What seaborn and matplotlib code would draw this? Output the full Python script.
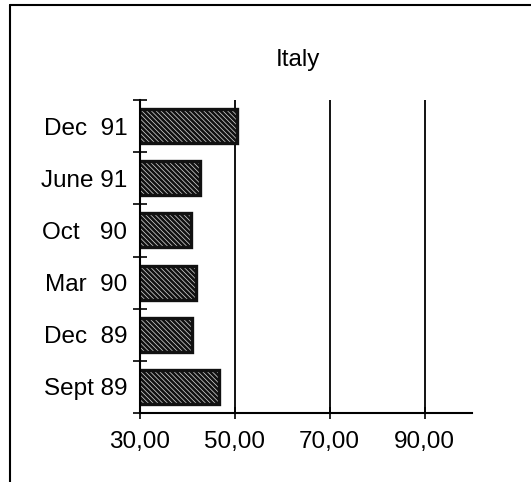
import matplotlib
matplotlib.use('Agg')
import matplotlib.pyplot as plt
import matplotlib.ticker as mticker
from matplotlib.lines import Line2D
import seaborn as sns
import pandas as pd

# Datos (de arriba hacia abajo)
periods = ['Dec  91', 'June 91', 'Oct   90', 'Mar  90', 'Dec  89', 'Sept 89']
values = [50.4, 42.6, 40.7, 41.8, 41.0, 46.6]
x_ticks = [30, 50, 70, 90]
title = 'Italy'

sns.set_theme(style='white')
plt.rcParams['font.family'] = ['Liberation Sans', 'DejaVu Sans']
plt.rcParams['text.color'] = 'black'
plt.rcParams['xtick.color'] = 'black'
plt.rcParams['ytick.color'] = 'black'
plt.rcParams['hatch.linewidth'] = 1.9

fig = plt.figure(figsize=(5.31, 4.82), dpi=100)
ax = fig.add_axes([140 / 531, 1 - 413 / 482, 332 / 531, 313 / 482])

df = pd.DataFrame({'period': periods, 'value': values})
sns.barplot(data=df, x='value', y='period', orient='h', order=periods,
            color='#d8d8d8', edgecolor='#111111', linewidth=2.4,
            width=0.65, ax=ax)
for bar in ax.patches:
    bar.set_hatch('\\' * 7)

ax.set_xlim(30, 100)
ax.set_ylim(len(periods) - 0.5, -0.5)

# rejilla vertical
for v in x_ticks[1:]:
    ax.axvline(v, color='black', lw=1.3, zorder=0)

ax.xaxis.set_major_locator(mticker.FixedLocator(x_ticks))
ax.set_xticklabels([f'{v},00' for v in x_ticks], fontsize=17.5)
ax.tick_params(axis='x', bottom=True, direction='inout', length=8, width=1.2,
               color='black', labelcolor='black', pad=9)

ax.yaxis.set_major_locator(mticker.FixedLocator([i - 0.5 for i in range(len(periods) + 1)]))
ax.yaxis.set_minor_locator(mticker.FixedLocator(list(range(len(periods)))))
ax.yaxis.set_major_formatter(mticker.NullFormatter())
ax.yaxis.set_minor_formatter(mticker.FixedFormatter(periods))
ax.tick_params(axis='y', which='major', left=True, direction='inout', length=10,
               width=1.2, color='black')
ax.tick_params(axis='y', which='minor', left=True, length=0, pad=9, labelsize=17.5,
               labelcolor='black')

ax.set_xlabel('')
ax.set_ylabel('')
for side in ['top', 'right']:
    ax.spines[side].set_visible(False)
for side in ['left', 'bottom']:
    ax.spines[side].set_color('black')
    ax.spines[side].set_linewidth(1.5)

fig.text(298 / 531, 1 - 60 / 482, title, ha='center', va='center', fontsize=17.5,
         color='black')

# marco del documento escaneado
fig.add_artist(Line2D([10 / 531, 1], [1 - 5 / 482, 1 - 5 / 482], color='black', lw=1.5))
fig.add_artist(Line2D([10 / 531, 10 / 531], [0, 1 - 5 / 482], color='black', lw=1.5))

fig.savefig('out.png', dpi=100)
plt.close(fig)
